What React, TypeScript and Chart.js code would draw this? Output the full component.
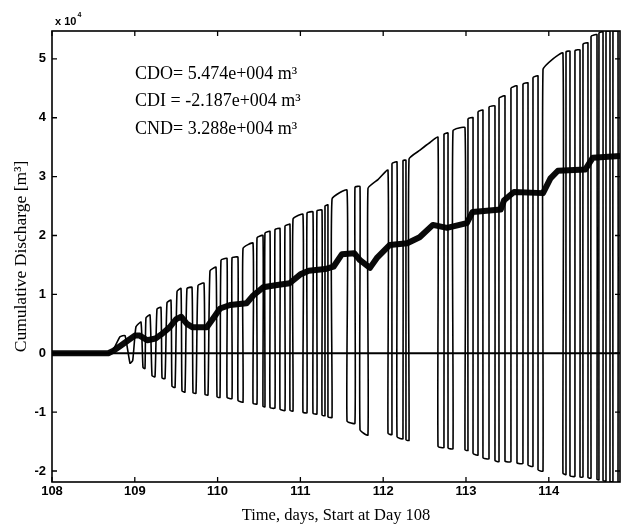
import React, { useEffect, useRef } from "react";
import { Chart, registerables } from "chart.js";

Chart.register(...registerables);

// Axis ranges and ticks (values in units of 10^4 m^3)
const xRange = [108, 114.86];
const yRange = [-2.187, 5.474];
const xTicks = [108, 109, 110, 111, 112, 113, 114];
const yTicks = [-2, -1, 0, 1, 2, 3, 4, 5];

// Instantaneous cumulative discharge trace [day, value x1e4]
const flowSeries: [number, number][] = [
  [108.0, 0], [108.676, 0], [108.737, 0.05], [108.821, 0.28], [108.882, 0.3], [108.942, -0.17], [108.975, -0.12],
  [109.014, 0.45], [109.075, 0.53], [109.099, -0.24], [109.123, -0.26],
  [109.135, 0.6], [109.184, 0.65], [109.208, -0.38], [109.244, -0.4],
  [109.268, 0.75], [109.316, 0.78], [109.329, -0.42], [109.365, -0.43],
  [109.389, 0.86], [109.437, 0.9], [109.449, -0.56], [109.486, -0.58],
  [109.51, 1.05], [109.558, 1.1], [109.57, -0.64], [109.606, -0.66],
  [109.63, 1.1], [109.691, 1.12], [109.703, -0.67], [109.739, -0.68],
  [109.763, 1.15], [109.836, 1.19], [109.848, -0.7], [109.884, -0.71],
  [109.908, 1.4], [109.981, 1.46], [109.993, -0.74], [110.029, -0.75],
  [110.041, 1.58], [110.114, 1.61], [110.114, -0.75], [110.174, -0.77],
  [110.174, 1.62], [110.246, 1.63], [110.246, -0.8], [110.307, -0.83],
  [110.307, 1.78], [110.428, 1.87], [110.428, -0.85], [110.476, -0.86],
  [110.476, 1.96], [110.548, 2.0], [110.548, -0.9], [110.572, -0.91],
  [110.572, 2.04], [110.633, 2.07], [110.633, -0.92], [110.693, -0.93],
  [110.693, 2.1], [110.754, 2.12], [110.754, -0.95], [110.814, -0.97],
  [110.814, 2.16], [110.874, 2.19], [110.874, -0.97], [110.911, -0.98],
  [110.911, 2.28], [111.031, 2.36], [111.031, -1.0], [111.08, -1.01],
  [111.08, 2.38], [111.152, 2.4], [111.152, -1.02], [111.2, -1.03],
  [111.2, 2.42], [111.261, 2.43], [111.261, -1.05], [111.297, -1.06],
  [111.297, 2.5], [111.333, 2.52], [111.333, -1.08], [111.382, -1.09],
  [111.382, 2.62], [111.563, 2.77], [111.563, -1.15], [111.659, -1.19],
  [111.659, 2.82], [111.72, 2.83], [111.72, -1.3], [111.816, -1.39],
  [111.816, 2.8], [111.937, 2.95], [112.058, 3.11], [112.058, -1.36], [112.106, -1.38],
  [112.106, 3.22], [112.167, 3.25], [112.167, -1.42], [112.239, -1.45],
  [112.239, 3.27], [112.275, 3.28], [112.275, -1.47], [112.312, -1.48],
  [112.312, 3.3], [112.444, 3.45], [112.565, 3.58], [112.662, 3.67], [112.662, -1.58], [112.734, -1.6],
  [112.734, 3.72], [112.783, 3.74], [112.783, -1.61], [112.843, -1.62],
  [112.843, 3.78], [112.988, 3.83], [112.988, -1.64], [113.024, -1.65],
  [113.024, 3.98], [113.085, 4.0], [113.085, -1.7], [113.145, -1.73],
  [113.145, 4.1], [113.205, 4.13], [113.205, -1.77], [113.278, -1.79],
  [113.278, 4.18], [113.35, 4.2], [113.35, -1.82], [113.399, -1.84],
  [113.399, 4.33], [113.471, 4.37], [113.471, -1.83], [113.543, -1.84],
  [113.543, 4.5], [113.616, 4.54], [113.616, -1.86], [113.688, -1.87],
  [113.688, 4.57], [113.749, 4.59], [113.749, -1.9], [113.809, -1.92],
  [113.809, 4.68], [113.87, 4.71], [113.87, -1.98], [113.93, -2.0],
  [113.93, 4.82], [114.051, 5.0], [114.171, 5.1], [114.171, -2.04], [114.208, -2.06],
  [114.208, 5.12], [114.256, 5.13], [114.256, -2.08], [114.316, -2.09],
  [114.316, 5.14], [114.377, 5.15], [114.377, -2.1], [114.413, -2.1],
  [114.413, 5.25], [114.473, 5.27], [114.473, -2.11], [114.51, -2.12],
  [114.51, 5.38], [114.582, 5.41], [114.582, -2.14], [114.606, -2.15],
  [114.606, 5.44], [114.655, 5.46], [114.655, -2.16], [114.691, -2.17],
  [114.691, 5.47], [114.739, 5.47], [114.739, -2.18], [114.775, -2.18],
  [114.775, 5.474], [114.836, 5.474], [114.836, -2.187], [114.86, -2.187],
];

// Net cumulative discharge [day, value x1e4]
const netSeries: [number, number][] = [
  [108.0, 0], [108.68, 0], [108.75, 0.05], [108.82, 0.12], [108.9, 0.2], [109.0, 0.3], [109.06, 0.3],
  [109.15, 0.22], [109.25, 0.25], [109.32, 0.32], [109.42, 0.44], [109.5, 0.58], [109.56, 0.62],
  [109.63, 0.5], [109.7, 0.44], [109.87, 0.44], [109.95, 0.6], [110.03, 0.76], [110.15, 0.82],
  [110.35, 0.85], [110.43, 0.98], [110.55, 1.12], [110.72, 1.16], [110.87, 1.19], [111.0, 1.34],
  [111.1, 1.4], [111.3, 1.43], [111.4, 1.47], [111.5, 1.68], [111.65, 1.7], [111.72, 1.58],
  [111.84, 1.45], [111.93, 1.63], [112.08, 1.84], [112.29, 1.87], [112.44, 1.97], [112.6, 2.18],
  [112.77, 2.13], [113.01, 2.21], [113.08, 2.4], [113.42, 2.44], [113.46, 2.6], [113.58, 2.74],
  [113.93, 2.72], [114.02, 2.97], [114.11, 3.1], [114.44, 3.12], [114.53, 3.32], [114.86, 3.35],
];

const zeroSeries: [number, number][] = [[108, 0], [114.86, 0]];

const notes = ["CDO= 5.474e+004 m³", "CDI = -2.187e+004 m³", "CND= 3.288e+004 m³"];
const exponentBase = "x 10";
const exponentPower = "4";
const xTitle = "Time, days, Start at Day 108";
const yTitle = "Cumulative Discharge [m³]";

const toXY = (s: [number, number][]) => s.map(([x, y]) => ({ x, y }));

const decor = {
  id: "decor",
  afterDatasetsDraw(chart: any) {
    const { ctx, chartArea: a, scales } = chart;
    const xs = scales.x;
    const ys = scales.y;
    ctx.save();
    ctx.strokeStyle = "#000";
    ctx.lineWidth = 1.6;
    ctx.strokeRect(a.left, a.top, a.right - a.left, a.bottom - a.top);
    ctx.lineWidth = 1.3;
    ctx.beginPath();
    xTicks.forEach((v) => {
      const px = xs.getPixelForValue(v);
      ctx.moveTo(px, a.bottom);
      ctx.lineTo(px, a.bottom - 5);
      ctx.moveTo(px, a.top);
      ctx.lineTo(px, a.top + 5);
    });
    yTicks.forEach((v) => {
      const py = ys.getPixelForValue(v);
      ctx.moveTo(a.left, py);
      ctx.lineTo(a.left + 5, py);
      ctx.moveTo(a.right, py);
      ctx.lineTo(a.right - 5, py);
    });
    ctx.stroke();

    ctx.fillStyle = "#000";
    ctx.textBaseline = "alphabetic";
    ctx.textAlign = "left";
    ctx.font = 'bold 11px "Liberation Sans"';
    ctx.fillText(exponentBase, 55, 25);
    const w = ctx.measureText(exponentBase).width;
    ctx.font = 'bold 7px "Liberation Sans"';
    ctx.fillText(exponentPower, 55 + w + 1, 17);

    ctx.font = '18px "Liberation Serif"';
    ctx.textBaseline = "middle";
    notes.forEach((t, i) => ctx.fillText(t, 135, 74 + i * 27.5));
    ctx.restore();
  },
};

export default function App() {
  const ref = useRef<HTMLCanvasElement | null>(null);

  useEffect(() => {
    if (!ref.current) return;
    const chart = new Chart(ref.current, {
      type: "line",
      data: {
        datasets: [
          {
            data: toXY(flowSeries),
            borderColor: "#000",
            borderWidth: 1.6,
            pointRadius: 0,
            tension: 0.15,
            borderJoinStyle: "round",
          },
          {
            data: toXY(zeroSeries),
            borderColor: "#000",
            borderWidth: 2,
            pointRadius: 0,
          },
          {
            data: toXY(netSeries),
            borderColor: "#0a0a0a",
            borderWidth: 6,
            pointRadius: 0,
            tension: 0,
            borderJoinStyle: "round",
          },
        ],
      },
      options: {
        responsive: false,
        animation: false,
        events: [],
        layout: { padding: { left: 0, right: 2, top: 31, bottom: 0 } },
        plugins: { legend: { display: false }, tooltip: { enabled: false } },
        scales: {
          x: {
            type: "linear",
            min: xRange[0],
            max: xRange[1],
            afterBuildTicks: (s: any) => {
              s.ticks = xTicks.map((v) => ({ value: v }));
            },
            afterFit: (s: any) => {
              s.height = 45;
            },
            grid: { display: false, drawTicks: false },
            border: { display: false },
            ticks: {
              padding: 2,
              color: "#000",
              font: { family: "Liberation Sans", size: 13, weight: "bold" },
              callback: (v: any) => String(v),
              maxRotation: 0,
            },
            title: {
              display: true,
              text: xTitle,
              color: "#000",
              font: { family: "Liberation Serif", size: 16.5 },
              padding: { top: 0, bottom: 1 },
            },
          },
          y: {
            type: "linear",
            min: yRange[0],
            max: yRange[1],
            afterBuildTicks: (s: any) => {
              s.ticks = yTicks.map((v) => ({ value: v }));
            },
            afterFit: (s: any) => {
              s.width = 52;
            },
            grid: { display: false, drawTicks: false },
            border: { display: false },
            ticks: {
              padding: 6,
              color: "#000",
              font: { family: "Liberation Sans", size: 13, weight: "bold" },
              callback: (v: any) => String(v),
            },
            title: {
              display: true,
              text: yTitle,
              color: "#000",
              font: { family: "Liberation Serif", size: 17.5 },
              padding: { top: 11, bottom: 0 },
            },
          },
        },
      },
      plugins: [decor],
    });
    return () => chart.destroy();
  }, []);

  return (
    <canvas
      ref={ref}
      width={622}
      height={527}
      style={{ position: "absolute", left: 0, top: 0, display: "block", background: "#fff" }}
    />
  );
}
